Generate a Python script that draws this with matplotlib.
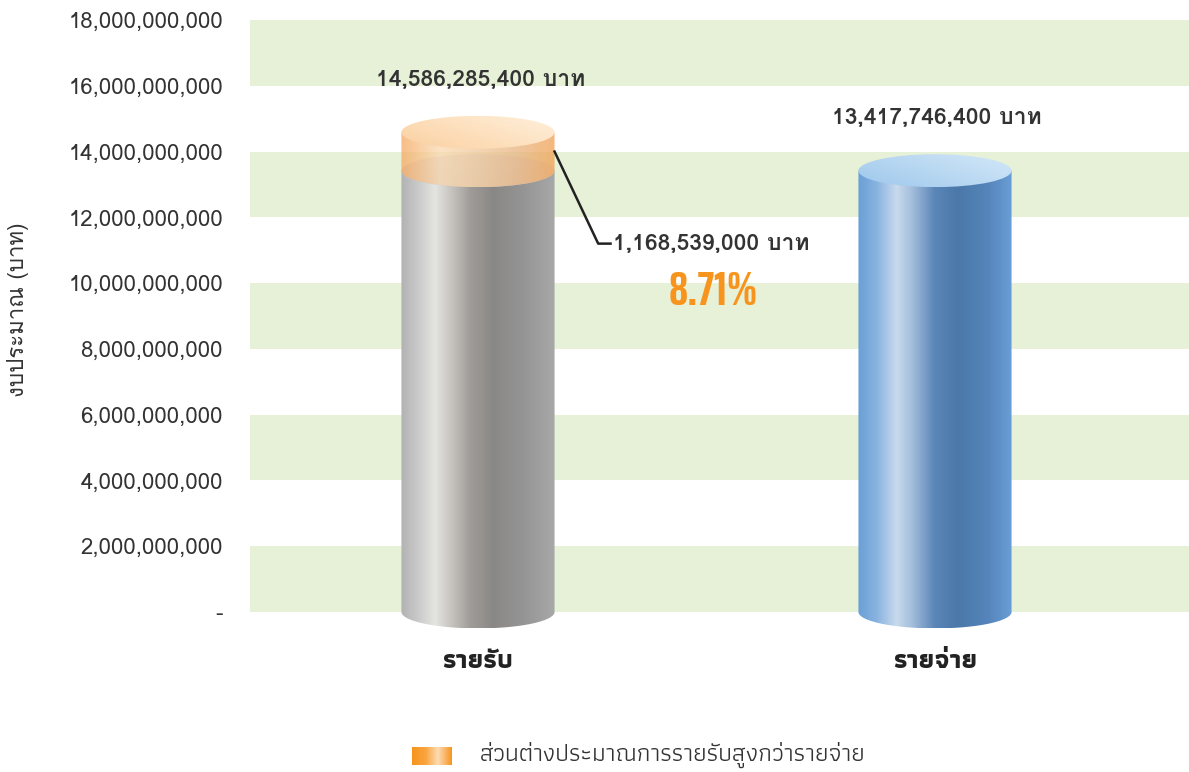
import numpy as np
import matplotlib
matplotlib.use("Agg")
import matplotlib.pyplot as plt
from matplotlib.colors import LinearSegmentedColormap
from matplotlib.patches import Polygon, Ellipse

# ------------------- DATA -------------------
categories = ["รายรับ", "รายจ่าย"]
values = [14586285400, 13417746400]
diff_value = 1168539000
diff_pct = "8.71%"
yticks = [0, 2e9, 4e9, 6e9, 8e9, 10e9, 12e9, 14e9, 16e9, 18e9]
ylabel = "งบประมาณ (บาท)"
legend_label = "ส่วนต่างประมาณการรายรับสูงกว่ารายจ่าย"
unit = "บาท"
# --------------------------------------------

plt.rcParams["font.family"] = ["Loma", "DejaVu Sans"]
NARROW_TH = ["Athiti", "Loma", "DejaVu Sans"]
CONDENSED = ["Saira ExtraCondensed", "Barlow Condensed", "DejaVu Sans"]

gray_cm = LinearSegmentedColormap.from_list("g", [
    (0.0, "#b2b2b2"), (0.1, "#c8c8c8"), (0.22, "#e4e4e2"), (0.35, "#c0bdb8"),
    (0.45, "#a09c98"), (0.6, "#8a8886"), (0.8, "#959595"), (1.0, "#a8a8a8")])
blue_cm = LinearSegmentedColormap.from_list("b", [
    (0.0, "#6a9fd6"), (0.12, "#88b3e0"), (0.25, "#c8daec"), (0.35, "#a3bedc"),
    (0.5, "#5a85b8"), (0.65, "#4a78a8"), (0.85, "#5585bb"), (1.0, "#6a9ed6")])
orange_cm = LinearSegmentedColormap.from_list("o", [
    (0.0, "#f5a860"), (0.25, "#fbd9b0"), (0.5, "#f0c89a"), (0.75, "#e8b480"), (1.0, "#f2a050")])
gray_top = LinearSegmentedColormap.from_list("gt", ["#c8c8c8", "#e0e0e0"])
blue_top = LinearSegmentedColormap.from_list("bt", ["#9ec8ec", "#d4e8f8"])
orange_top = LinearSegmentedColormap.from_list("ot", ["#fbd0a0", "#fff0dc"])
legend_cm = LinearSegmentedColormap.from_list("l", [
    (0.0, "#f7941d"), (0.35, "#f9a540"), (0.65, "#fddcb4"), (1.0, "#f7941d")])

W = 0.335      # cylinder width (x units)
EH = 0.5e9     # ellipse half height (y units)
grad = np.linspace(0, 1, 256).reshape(1, -1)


def body(ax, xc, y0, y1, cmap, z, alpha=1.0):
    """Cylinder side: rectangle + lower half ellipse, filled with a horizontal gradient."""
    t = np.linspace(np.pi, 2 * np.pi, 80)
    arc = np.column_stack([xc + W / 2 * np.cos(t), y0 + EH * np.sin(t)])
    verts = np.vstack([[xc - W / 2, y1], arc, [xc + W / 2, y1]])
    poly = Polygon(verts, closed=True, transform=ax.transData)
    im = ax.imshow(grad, cmap=cmap, extent=[xc - W / 2, xc + W / 2, y0 - EH, y1],
                   aspect="auto", interpolation="bilinear", zorder=z, alpha=alpha)
    im.set_clip_path(poly)


def top(ax, xc, y, cmap, z, alpha=1.0):
    el = Ellipse((xc, y), W, 2 * EH, transform=ax.transData)
    t = np.linspace(0, 1, 256)
    g = t[None, :] * 0.6 + t[::-1, None] * 0.4
    im = ax.imshow(g, cmap=cmap, extent=[xc - W / 2, xc + W / 2, y - EH, y + EH],
                   aspect="auto", interpolation="bilinear", zorder=z, alpha=alpha)
    im.set_clip_path(el)


fig = plt.figure(figsize=(11.89, 7.72), dpi=100)
ax = fig.add_axes([250 / 1189, 0.1775, 939 / 1189, 0.9741 - 0.1775])

# alternating green bands
for lo, hi in zip(yticks[0::2], yticks[1::2]):
    ax.axhspan(lo, hi, color="#e6f1d8", lw=0, zorder=0)

x = np.arange(len(categories))
base = values[1]

# revenue cylinder: gray up to the expense level, orange difference on top
body(ax, x[0], 0, base, gray_cm, 2)
top(ax, x[0], base, gray_top, 3)
body(ax, x[0], base, values[0], orange_cm, 4, alpha=0.75)
top(ax, x[0], values[0], orange_top, 5)

# expense cylinder
body(ax, x[1], 0, values[1], blue_cm, 2)
top(ax, x[1], values[1], blue_top, 3)

for xi, v in zip(x, values):
    ax.text(xi + 0.005, v + 1.6e9, f"{v:,} {unit}", ha="center", va="center",
            fontsize=16.5, fontweight="bold", color="#333333")

# leader line for the difference
lx = [x[0] + W / 2, x[0] + 0.263, x[0] + 0.29]
ly = [14.0e9, 11.2e9, 11.2e9]
ax.plot(lx, ly, color="#222222", lw=1.8, zorder=6)
ax.text(x[0] + 0.295, 11.2e9, f"{diff_value:,} {unit}", ha="left", va="center",
        fontsize=16.5, fontweight="bold", color="#333333")
ax.text(x[0] + 0.516, 9.73e9, diff_pct, ha="center", va="center",
        fontsize=34, fontweight="bold", color="#f7941d", family=CONDENSED)

ax.set_xlim(-0.4989, 1.5558)
ax.set_ylim(-0.7e9, 18e9)
ax.set_yticks(yticks)
ax.set_yticklabels([f"{int(v):,}" if v else "-" for v in yticks],
                   fontsize=16, color="#333333")
ax.set_xticks(x)
ax.set_xticklabels(categories, fontsize=19, fontweight="bold", color="#222222",
                   family=NARROW_TH)
ax.tick_params(axis="y", length=0, pad=19.5)
ax.tick_params(axis="x", length=0, pad=11)
for s in ax.spines.values():
    s.set_visible(False)

fig.text(18 / 1189, (772 - 310) / 772, ylabel, rotation=90, ha="center", va="center",
         fontsize=16, color="#333333")

# legend
lax = fig.add_axes([412 / 1189, 7 / 772, 40 / 1189, 18 / 772])
lax.imshow(grad, cmap=legend_cm, aspect="auto", interpolation="bilinear")
lax.axis("off")
fig.text(480 / 1189, 17 / 772, legend_label, ha="left", va="center",
         fontsize=18, color="#333333", family=NARROW_TH)

fig.savefig("out.png", dpi=100)
